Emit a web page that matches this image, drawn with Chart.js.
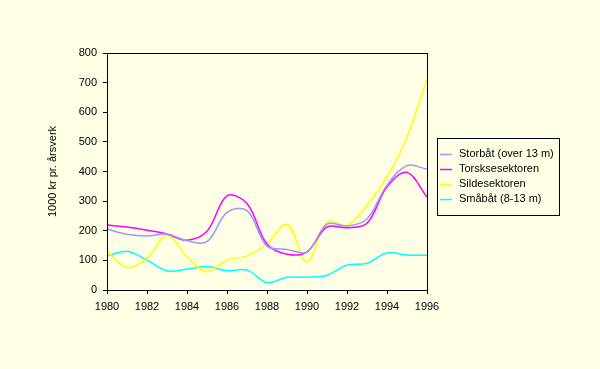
<!DOCTYPE html>
<html>
<head>
<meta charset="utf-8">
<title>Verdiskaping pr. årsverk</title>
<script src="https://cdn.jsdelivr.net/npm/chart.js@4.4.1/dist/chart.umd.min.js"></script>
<style>
  html, body { margin: 0; padding: 0; background: #FFFFE5; }
  #wrap { width: 600px; height: 369px; }
</style>
</head>
<body>
<div id="wrap"><canvas id="chart" width="600" height="369"></canvas></div>
<script>
// Data (1000 kr pr. årsverk)
const years = [1980, 1981, 1982, 1983, 1984, 1985, 1986, 1987, 1988, 1989, 1990, 1991, 1992, 1993, 1994, 1995, 1996];
const storbat = [206, 188, 182, 189, 166, 163, 262, 268, 148, 137, 128, 222, 216, 240, 354, 420, 408];
const torsk   = [219, 213, 202, 189, 168, 198, 318, 292, 155, 121, 129, 213, 210, 225, 348, 397, 314];
const silde   = [132, 76, 107, 185, 112, 62, 101, 115, 157, 222, 95, 230, 219, 286, 382, 517, 713];
const smabat  = [115, 131, 101, 65, 70, 79, 65, 67, 25, 43, 43, 50, 84, 90, 126, 118, 117];

const seriesNames = ['Storbåt (over 13 m)', 'Torsksesektoren', 'Sildesektoren', 'Småbåt (8-13 m)'];
const seriesColors = ['#9999FF', '#FF00FF', '#FFFF00', '#00FFFF'];
const seriesValues = [storbat, torsk, silde, smabat];

const FONT = '"Liberation Sans", Arial, sans-serif';

// draws the box round the plot area
const plotFrame = {
  id: 'plotFrame',
  afterDatasetsDraw(chart) {
    const { ctx, chartArea: a } = chart;
    ctx.save();
    ctx.strokeStyle = '#000';
    ctx.lineWidth = 1;
    ctx.strokeRect(Math.round(a.left) + 0.5, Math.round(a.top) + 0.5,
                   Math.round(a.right - a.left), Math.round(a.bottom - a.top));
    ctx.restore();
  }
};

// framed legend to the right of the plot
const legendBox = {
  id: 'legendBox',
  afterDraw(chart) {
    const ctx = chart.ctx;
    const x0 = Math.round(chart.chartArea.right) + 10;
    const y0 = 138, w = 122, h = 77;
    ctx.save();
    ctx.strokeStyle = '#000';
    ctx.lineWidth = 1;
    ctx.strokeRect(x0 + 0.5, y0 + 0.5, w, h);
    ctx.font = '11px ' + FONT;
    ctx.textBaseline = 'middle';
    ctx.fillStyle = '#000';
    chart.data.datasets.forEach((ds, i) => {
      const y = y0 + 16 + i * 15;
      ctx.strokeStyle = ds.borderColor;
      ctx.lineWidth = 1.5;
      ctx.beginPath();
      ctx.moveTo(x0 + 3, y + 0.5);
      ctx.lineTo(x0 + 15, y + 0.5);
      ctx.stroke();
      ctx.fillText(ds.label, x0 + 22, y);
    });
    ctx.restore();
  }
};

new Chart(document.getElementById('chart'), {
  type: 'line',
  data: {
    datasets: seriesValues.map((vals, i) => ({
      label: seriesNames[i],
      data: vals.map((v, k) => ({ x: years[k], y: v })),
      borderColor: seriesColors[i],
      borderWidth: 1.5,
      pointRadius: 0,
      tension: 0.35,
      fill: false
    }))
  },
  options: {
    responsive: false,
    animation: false,
    events: [],
    layout: { padding: { left: 42, top: 53, right: 173, bottom: 0 } },
    plugins: {
      legend: { display: false },
      tooltip: { enabled: false }
    },
    scales: {
      x: {
        type: 'linear',
        min: 1980,
        max: 1996,
        afterFit: (s) => { s.height = 79; },
        grid: { display: true, drawOnChartArea: false, drawTicks: true, tickLength: 4, color: '#000' },
        border: { display: true, color: '#000', width: 1 },
        ticks: {
          stepSize: 2,
          padding: 6,
          color: '#000',
          font: { family: FONT, size: 11 },
          maxRotation: 0,
          callback: (v) => String(v)
        }
      },
      y: {
        min: 0,
        max: 800,
        afterFit: (s) => { s.width = 65; },
        grid: { display: true, drawOnChartArea: false, drawTicks: true, tickLength: 4, color: '#000' },
        border: { display: true, color: '#000', width: 1 },
        ticks: {
          stepSize: 100,
          padding: 6,
          color: '#000',
          font: { family: FONT, size: 11 }
        },
        title: {
          display: true,
          text: '1000 kr pr. årsverk',
          color: '#000',
          font: { family: FONT, size: 11 }
        }
      }
    }
  },
  plugins: [plotFrame, legendBox]
});
</script>
</body>
</html>
